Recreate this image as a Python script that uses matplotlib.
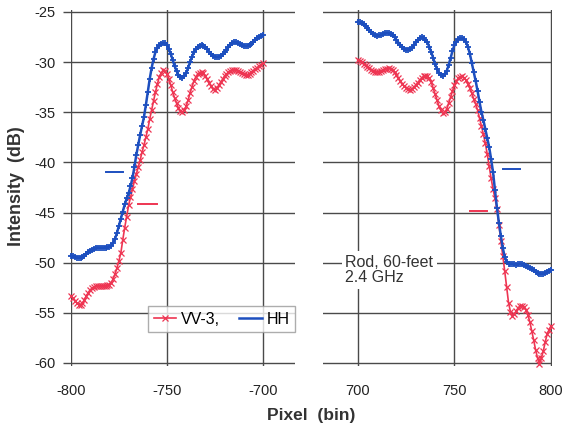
import numpy as np
import matplotlib
matplotlib.use("Agg")
import matplotlib.pyplot as plt

plt.rcParams['font.family'] = ['Liberation Sans', 'DejaVu Sans']
plt.rcParams['axes.unicode_minus'] = False

# pixel bins
bins_izq = np.arange(-800, -699, 1)
bins_der = np.arange(700, 801, 1)

# HH, lado negativo (-800 .. -700)
hh_izq = [-49.3, -49.35, -49.4, -49.5, -49.5, -49.5, -49.4, -49.3, -49.1, -48.95,
          -48.8, -48.7, -48.6, -48.5, -48.5, -48.5, -48.5, -48.5, -48.5, -48.45,
          -48.4, -48.3, -48.0, -47.6, -47.0, -46.3, -45.6, -44.9, -44.2, -43.6,
          -43.1, -42.4, -41.6, -40.5, -39.3, -38.3, -37.3, -36.4, -35.5, -34.3,
          -33.0, -31.7, -30.6, -29.7, -29.0, -28.6, -28.3, -28.15, -28.1, -28.1,
          -28.3, -28.7, -29.2, -29.8, -30.4, -30.9, -31.3, -31.5, -31.6, -31.4,
          -31.1, -30.6, -30.0, -29.5, -29.0, -28.7, -28.5, -28.35, -28.3, -28.35,
          -28.5, -28.7, -29.0, -29.2, -29.4, -29.5, -29.5, -29.5, -29.4, -29.2,
          -29.0, -28.8, -28.5, -28.3, -28.1, -28.0, -28.0, -28.1, -28.2, -28.3,
          -28.4, -28.4, -28.4, -28.3, -28.2, -28.0, -27.8, -27.65, -27.5, -27.4,
          -27.3]
# VV-3, lado negativo
vv_izq = [-53.3, -53.55, -53.8, -54.0, -54.2, -54.2, -54.0, -53.7, -53.3, -53.0,
          -52.7, -52.55, -52.4, -52.35, -52.3, -52.3, -52.3, -52.3, -52.3, -52.25,
          -52.2, -52.0, -51.6, -51.1, -50.5, -49.8, -49.0, -47.7, -46.5, -45.4,
          -44.3, -43.5, -42.7, -41.9, -41.2, -40.5, -39.8, -39.0, -38.3, -37.5,
          -36.7, -35.7, -34.8, -33.9, -33.0, -32.2, -31.5, -31.1, -30.8, -30.9,
          -31.2, -31.7, -32.3, -33.0, -33.6, -34.1, -34.6, -34.9, -35.0, -34.8,
          -34.4, -33.8, -33.1, -32.5, -31.9, -31.5, -31.2, -31.05, -31.0, -31.1,
          -31.4, -31.7, -32.1, -32.4, -32.7, -32.75, -32.6, -32.3, -32.0, -31.7,
          -31.4, -31.2, -31.0, -30.9, -30.8, -30.8, -30.8, -30.9, -31.0, -31.1,
          -31.2, -31.3, -31.3, -31.2, -31.0, -30.85, -30.7, -30.55, -30.4, -30.25,
          -30.1]
# HH, lado positivo (700 .. 800)
hh_der = [-26.0, -26.05, -26.1, -26.25, -26.4, -26.6, -26.8, -27.0, -27.2, -27.3,
          -27.4, -27.35, -27.3, -27.2, -27.1, -27.1, -27.1, -27.2, -27.3, -27.5,
          -27.8, -28.05, -28.3, -28.5, -28.7, -28.8, -28.8, -28.7, -28.6, -28.3,
          -28.0, -27.8, -27.6, -27.55, -27.6, -27.8, -28.0, -28.5, -29.0, -29.6,
          -30.2, -30.7, -31.1, -31.3, -31.4, -31.2, -30.9, -30.3, -29.6, -28.9,
          -28.3, -28.0, -27.7, -27.6, -27.6, -27.75, -28.0, -28.5, -29.2, -30.1,
          -31.0, -31.9, -32.9, -34.0, -35.0, -35.8, -36.7, -37.6, -38.5, -39.7,
          -41.0, -42.8, -44.5, -46.0, -47.3, -48.5, -49.4, -49.9, -50.1, -50.1,
          -50.1, -50.15, -50.2, -50.15, -50.1, -50.15, -50.2, -50.3, -50.4, -50.5,
          -50.6, -50.75, -50.9, -51.0, -51.1, -51.1, -51.1, -51.0, -50.9, -50.8,
          -50.7]
# VV-3, lado positivo
vv_der = [-29.8, -29.9, -30.0, -30.15, -30.3, -30.45, -30.6, -30.75, -30.9, -30.95,
          -31.0, -30.95, -30.9, -30.8, -30.7, -30.65, -30.6, -30.7, -30.8, -31.0,
          -31.3, -31.6, -31.9, -32.15, -32.4, -32.55, -32.7, -32.75, -32.7, -32.5,
          -32.3, -32.05, -31.8, -31.6, -31.4, -31.35, -31.4, -31.6, -32.0, -32.6,
          -33.2, -33.8, -34.4, -34.8, -35.1, -35.0, -34.7, -34.1, -33.5, -32.9,
          -32.3, -31.9, -31.6, -31.45, -31.4, -31.55, -31.8, -32.2, -32.6, -33.1,
          -33.7, -34.2, -34.8, -35.6, -36.4, -37.2, -38.1, -39.2, -40.4, -41.6,
          -42.7, -43.6, -44.6, -46.2, -47.8, -49.3, -50.8, -52.4, -54.0, -54.9,
          -55.3, -55.1, -54.8, -54.5, -54.3, -54.3, -54.4, -54.7, -55.2, -55.9,
          -56.8, -57.7, -58.7, -59.5, -60.1, -59.5, -58.8, -57.9, -57.1, -56.7,
          -56.3]

# short level marks: (x0, x1, y)
marca_hh_izq = (-782, -773, -41.0)
marca_vv_izq = (-765, -755, -44.2)
marca_hh_der = (775, 784, -40.7)
marca_vv_der = (758, 767, -44.8)

y_ticks = [-60, -55, -50, -45, -40, -35, -30, -25]

rojo = '#EE3552'
azul = '#1D4FBF'
gris = '#4a4a4a'

fig = plt.figure(figsize=(5.66, 4.29), dpi=100)
ax1 = fig.add_axes([0.1254, 0.1469, 0.3958, 0.830])
ax2 = fig.add_axes([0.5707, 0.1469, 0.4046, 0.830])


def estilo(ax, xlim, xticks):
    ax.set_xlim(*xlim)
    ax.set_ylim(-60.3, -24.8)
    ax.set_xticks(xticks)
    ax.set_yticks(y_ticks)
    ax.grid(True, color=gris, linewidth=1.0)
    ax.set_axisbelow(True)
    for s in ax.spines.values():
        s.set_visible(False)
    ax.tick_params(axis='x', length=0, labelsize=10.5, pad=13, colors='#222222')
    ax.tick_params(axis='y', length=0, labelsize=10.5, pad=6, colors='#222222')


estilo(ax1, (-800, -683.3), [-800, -750, -700])
estilo(ax2, (682, 800.5), [700, 750, 800])
ax1.tick_params(axis='y', length=6, width=1.0, color=gris, pad=5)
ax2.set_yticklabels([])

for ax, x, vv, hh in [(ax1, bins_izq, vv_izq, hh_izq), (ax2, bins_der, vv_der, hh_der)]:
    ax.plot(x, vv, color=rojo, lw=1.2, marker='x', ms=4.2, mew=0.9,
            clip_on=False, zorder=3)
    ax.plot(x, hh, color=azul, lw=1.8, marker='+', ms=5, mew=1.3,
            clip_on=False, zorder=4)

for ax, m, c in [(ax1, marca_hh_izq, azul), (ax1, marca_vv_izq, rojo),
                 (ax2, marca_hh_der, azul), (ax2, marca_vv_der, rojo)]:
    ax.plot([m[0], m[1]], [m[2], m[2]], color=c, lw=1.4)

h1, = ax1.plot([], [], color=rojo, lw=1.2, marker='x', ms=5, mew=0.9)
h2, = ax1.plot([], [], color=azul, lw=1.8)
leg = ax1.legend([h1, h2], ['VV-3,', 'HH'], ncol=2, loc='lower right',
                 bbox_to_anchor=(1.0, 0.095), borderaxespad=0, fontsize=11.5,
                 frameon=True, fancybox=False, edgecolor='#999999',
                 handlelength=1.4, columnspacing=1.2, handletextpad=0.3,
                 borderpad=0.35)
leg.get_frame().set_linewidth(1.0)

ax2.text(693.4, -49.2, 'Rod, 60-feet\n2.4 GHz', fontsize=11.5, color='#333333',
         va='top', ha='left', linespacing=1.05,
         bbox=dict(facecolor='white', edgecolor='none', pad=2.5), zorder=5)

fig.text(0.030, 0.566, 'Intensity  (dB)', rotation=90, va='center', ha='center',
         fontsize=13, fontweight='bold', color='#333333')
fig.text(0.55, 0.032, 'Pixel  (bin)', va='center', ha='center',
         fontsize=12.5, fontweight='bold', color='#333333')

fig.savefig('out.png', dpi=100)
